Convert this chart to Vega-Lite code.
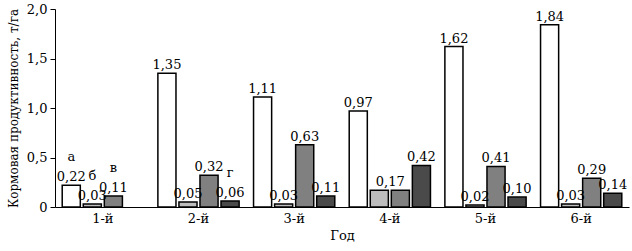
{
  "$schema": "https://vega.github.io/schema/vega-lite/v6.json",
  "width": 574,
  "height": 198,
  "autosize": {"type": "none"},
  "padding": {"left": 55, "top": 9, "right": 3, "bottom": 44},
  "config": {
    "font": "DejaVu Serif",
    "view": {"stroke": null},
    "axis": {
      "labelFont": "DejaVu Serif",
      "titleFont": "DejaVu Serif",
      "labelFontSize": 13,
      "titleFontSize": 13,
      "labelColor": "black",
      "titleColor": "black",
      "domainColor": "black",
      "tickColor": "black",
      "titleFontWeight": "normal",
      "grid": false
    },
    "text": {"font": "DejaVu Serif"}
  },
  "data": {
    "values": [
      {"year": "1-й", "series": "а", "value": 0.22, "label": "0,22", "mid": "", "letter": "а"},
      {"year": "1-й", "series": "б", "value": 0.03, "label": "0,03", "mid": "", "letter": "б"},
      {"year": "1-й", "series": "в", "value": 0.11, "label": "0,11", "mid": "", "letter": "в"},
      {"year": "2-й", "series": "а", "value": 1.35, "label": "1,35", "mid": "", "letter": ""},
      {"year": "2-й", "series": "б", "value": 0.05, "label": "0,05", "mid": "", "letter": ""},
      {"year": "2-й", "series": "в", "value": 0.32, "label": "0,32", "mid": "", "letter": ""},
      {"year": "2-й", "series": "г", "value": 0.06, "label": "0,06", "mid": "", "letter": "г"},
      {"year": "3-й", "series": "а", "value": 1.11, "label": "1,11", "mid": "", "letter": ""},
      {"year": "3-й", "series": "б", "value": 0.03, "label": "0,03", "mid": "", "letter": ""},
      {"year": "3-й", "series": "в", "value": 0.63, "label": "0,63", "mid": "", "letter": ""},
      {"year": "3-й", "series": "г", "value": 0.11, "label": "0,11", "mid": "", "letter": ""},
      {"year": "4-й", "series": "а", "value": 0.97, "label": "0,97", "mid": "", "letter": ""},
      {"year": "4-й", "series": "б", "value": 0.17, "label": "", "mid": "0,17", "letter": ""},
      {"year": "4-й", "series": "в", "value": 0.17, "label": "", "mid": "", "letter": ""},
      {"year": "4-й", "series": "г", "value": 0.42, "label": "0,42", "mid": "", "letter": ""},
      {"year": "5-й", "series": "а", "value": 1.62, "label": "1,62", "mid": "", "letter": ""},
      {"year": "5-й", "series": "б", "value": 0.02, "label": "0,02", "mid": "", "letter": ""},
      {"year": "5-й", "series": "в", "value": 0.41, "label": "0,41", "mid": "", "letter": ""},
      {"year": "5-й", "series": "г", "value": 0.10, "label": "0,10", "mid": "", "letter": ""},
      {"year": "6-й", "series": "а", "value": 1.84, "label": "1,84", "mid": "", "letter": ""},
      {"year": "6-й", "series": "б", "value": 0.03, "label": "0,03", "mid": "", "letter": ""},
      {"year": "6-й", "series": "в", "value": 0.29, "label": "0,29", "mid": "", "letter": ""},
      {"year": "6-й", "series": "г", "value": 0.14, "label": "0,14", "mid": "", "letter": ""}
    ]
  },
  "encoding": {
    "x": {
      "field": "year",
      "type": "nominal",
      "sort": null,
      "scale": {"paddingInner": 0.12, "paddingOuter": 0.06},
      "axis": {"title": "Год", "labelAngle": 0, "ticks": false, "tickSize": 0, "labelPadding": 5, "titlePadding": 4}
    },
    "xOffset": {
      "field": "series",
      "type": "nominal",
      "sort": ["а", "б", "в", "г"],
      "scale": {"domain": ["а", "б", "в", "г"], "paddingInner": 0.14, "paddingOuter": 0.07}
    },
    "y": {
      "field": "value",
      "type": "quantitative",
      "scale": {"domain": [0, 2]},
      "axis": {
        "title": "Кормовая продуктивность, т/га",
        "titleFontSize": 12,
        "values": [0, 0.5, 1, 1.5, 2],
        "labelExpr": "datum.value == 0 ? '0' : replace(format(datum.value, '.1f'), '.', ',')",
        "tickSize": 5,
        "labelPadding": 3,
        "titlePadding": 6
      }
    }
  },
  "layer": [
    {
      "mark": {"type": "bar", "stroke": "black", "strokeWidth": 1.5},
      "encoding": {
        "fill": {
          "field": "series",
          "type": "nominal",
          "scale": {"domain": ["а", "б", "в", "г"], "range": ["#ffffff", "#bdbdbd", "#808080", "#4a4a4a"]},
          "legend": null
        }
      }
    },
    {
      "transform": [{"filter": "datum.label != ''"}],
      "mark": {"type": "text", "baseline": "alphabetic", "dy": -4, "fontSize": 13, "color": "black"},
      "encoding": {"text": {"field": "label"}}
    },
    {
      "transform": [{"filter": "datum.mid != ''"}],
      "mark": {"type": "text", "baseline": "alphabetic", "dy": -4, "dx": 11, "fontSize": 13, "color": "black"},
      "encoding": {"text": {"field": "mid"}}
    },
    {
      "transform": [{"filter": "datum.letter != ''"}],
      "mark": {"type": "text", "baseline": "alphabetic", "dy": -24, "fontSize": 13, "color": "black"},
      "encoding": {"text": {"field": "letter"}}
    }
  ]
}
